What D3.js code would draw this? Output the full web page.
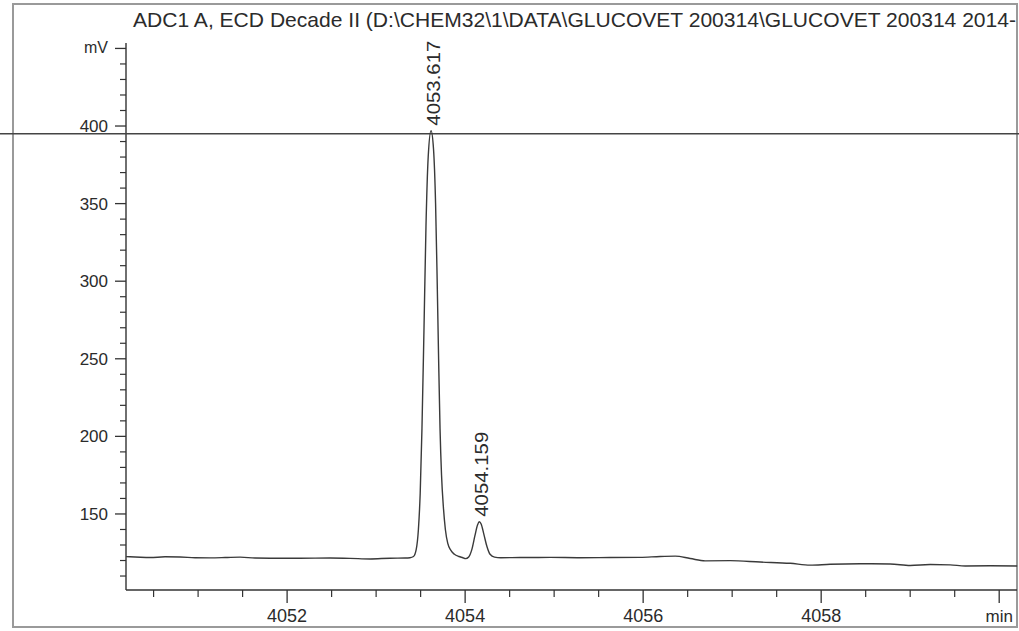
<!DOCTYPE html>
<html>
<head>
<meta charset="utf-8">
<script src="https://cdn.jsdelivr.net/npm/d3@7"></script>
<style>
  html, body { margin: 0; padding: 0; background: #fff; }
  svg { display: block; }
  text { font-family: Arial, "Liberation Sans", sans-serif; fill: #2b2b2b; }
</style>
</head>
<body>
<svg id="chart" width="1019" height="631"></svg>
<script>
// Detector trace: retention time (min) and signal (mV)
const traceTime = [
  4050.191, 4050.292, 4050.461, 4050.629, 4050.798, 4050.966, 4051.135, 4051.303,
  4051.472, 4051.640, 4051.809, 4052.146, 4052.483, 4052.708, 4052.933, 4053.157,
  4053.326,
  4053.380, 4053.420, 4053.450, 4053.475, 4053.495, 4053.515, 4053.538, 4053.560,
  4053.585, 4053.617, 4053.645, 4053.668, 4053.686, 4053.702, 4053.718, 4053.735,
  4053.755, 4053.778, 4053.805, 4053.840, 4053.880, 4053.930, 4053.975, 4054.005,
  4054.040, 4054.075, 4054.110, 4054.140, 4054.159, 4054.180, 4054.210, 4054.245,
  4054.280, 4054.330, 4054.400,
  4054.618, 4054.955, 4055.292, 4055.629, 4055.966, 4056.191, 4056.360, 4056.528,
  4056.697, 4056.978, 4057.315, 4057.652, 4057.876, 4058.101, 4058.438, 4058.775,
  4059.000, 4059.225, 4059.449, 4059.618, 4059.899, 4060.202
];
const traceMv = [
  122.5, 122.3, 121.9, 122.4, 122.3, 121.8, 121.7, 121.9,
  122.2, 121.6, 121.5, 121.5, 121.6, 121.4, 121.0, 121.5,
  121.6,
  121.8, 122.6, 127.0, 140.0, 163.0, 205.0, 270.0, 335.0,
  380.0, 397.0, 385.0, 350.0, 300.0, 250.0, 205.0, 175.0,
  155.0, 140.0, 131.0, 126.5, 124.0, 122.6, 121.8, 121.2,
  122.3, 127.0, 136.0, 143.0, 145.0, 143.5, 137.0, 129.0,
  124.0, 122.2, 121.8,
  121.9, 122.0, 121.8, 121.9, 122.0, 122.6, 122.8, 121.3,
  119.8, 119.9, 119.0, 118.2, 117.0, 117.6, 117.9, 117.8,
  116.8, 117.4, 117.2, 116.5, 116.6, 116.5
];

// Integrated peaks (retention time labels)
const peakTimes = [4053.617, 4054.159];
const peakLabels = ["4053.617", "4054.159"];

// Axis ticks
const yMajorTicks = [150, 200, 250, 300, 350, 400];
const yMinorTicks = [110, 120, 130, 140, 160, 170, 180, 190, 210, 220, 230, 240,
  260, 270, 280, 290, 310, 320, 330, 340, 360, 370, 380, 390, 410, 420, 430, 440];
const yUnitTick = 450;
const xMajorTicks = [4052, 4054, 4056, 4058];
const xMinorTicks = [4050.5, 4051, 4051.5, 4052.5, 4053, 4053.5, 4054.5, 4055, 4055.5,
  4056.5, 4057, 4057.5, 4058.5, 4059, 4059.5];
const xUnitTick = 4060;

// Reference level line drawn across the page
const referenceMv = 395;

const titleText = "ADC1 A, ECD Decade II (D:\\CHEM32\\1\\DATA\\GLUCOVET 200314\\GLUCOVET 200314 2014-";

const svg = d3.select("#chart");
const ink = "#333";

const x = d3.scaleLinear().domain([4050.19, 4060.2]).range([126, 1017]);
const y = d3.scaleLinear().domain([101, 453.5]).range([590, 43]);

// page frame
svg.append("rect")
  .attr("x", 13).attr("y", 4).attr("width", 1004).attr("height", 623)
  .attr("fill", "none").attr("stroke", "#9a9a9a").attr("stroke-width", 2);

// title
svg.append("text")
  .attr("x", 133).attr("y", 27)
  .attr("font-size", 21)
  .attr("textLength", 883).attr("lengthAdjust", "spacingAndGlyphs")
  .text(titleText);

// y axis
svg.append("line")
  .attr("x1", x.range()[0]).attr("x2", x.range()[0])
  .attr("y1", y.range()[1]).attr("y2", y.range()[0])
  .attr("stroke", ink).attr("stroke-width", 1.4);

svg.append("g").selectAll("line").data(yMinorTicks).join("line")
  .attr("x1", x.range()[0] - 6).attr("x2", x.range()[0])
  .attr("y1", d => y(d)).attr("y2", d => y(d))
  .attr("stroke", ink).attr("stroke-width", 1.2);

svg.append("g").selectAll("line").data(yMajorTicks.concat([yUnitTick])).join("line")
  .attr("x1", x.range()[0] - 11).attr("x2", x.range()[0])
  .attr("y1", d => y(d)).attr("y2", d => y(d))
  .attr("stroke", ink).attr("stroke-width", 1.3);

svg.append("g").selectAll("text").data(yMajorTicks).join("text")
  .attr("x", 108).attr("y", d => y(d))
  .attr("dy", "0.35em").attr("text-anchor", "end")
  .attr("font-size", 17)
  .text(d => d);

svg.append("text")
  .attr("x", 108).attr("y", y(yUnitTick))
  .attr("dy", "0.3em").attr("text-anchor", "end")
  .attr("font-size", 16)
  .text("mV");

// x axis
svg.append("line")
  .attr("x1", x.range()[0]).attr("x2", x.range()[1])
  .attr("y1", y.range()[0]).attr("y2", y.range()[0])
  .attr("stroke", ink).attr("stroke-width", 1.4);

svg.append("g").selectAll("line").data(xMinorTicks).join("line")
  .attr("x1", d => x(d)).attr("x2", d => x(d))
  .attr("y1", y.range()[0]).attr("y2", y.range()[0] + 7)
  .attr("stroke", ink).attr("stroke-width", 1.2);

svg.append("g").selectAll("line").data(xMajorTicks.concat([xUnitTick])).join("line")
  .attr("x1", d => x(d)).attr("x2", d => x(d))
  .attr("y1", y.range()[0]).attr("y2", y.range()[0] + 13)
  .attr("stroke", ink).attr("stroke-width", 1.3);

svg.append("g").selectAll("text").data(xMajorTicks).join("text")
  .attr("x", d => x(d)).attr("y", 622)
  .attr("text-anchor", "middle")
  .attr("font-size", 18)
  .text(d => d);

svg.append("text")
  .attr("x", x(xUnitTick)).attr("y", 622)
  .attr("text-anchor", "middle")
  .attr("font-size", 17)
  .text("min");

// reference level line
svg.append("line")
  .attr("x1", 0).attr("x2", 1019)
  .attr("y1", y(referenceMv)).attr("y2", y(referenceMv))
  .attr("stroke", "#444").attr("stroke-width", 1.4);

// chromatogram trace
const points = traceTime.map((t, i) => [t, traceMv[i]]);
svg.append("path")
  .datum(points)
  .attr("fill", "none")
  .attr("stroke", "#3a3a3a")
  .attr("stroke-width", 1.4)
  .attr("stroke-linejoin", "round")
  .attr("d", d3.line().x(d => x(d[0])).y(d => y(d[1])).curve(d3.curveMonotoneX));

// peak retention time labels, rotated above each apex
peakTimes.forEach((t, i) => {
  const idx = traceTime.indexOf(t);
  const v = traceMv[idx];
  const px = x(t) + 9;
  const py = y(v) - 5;
  svg.append("text")
    .attr("transform", `translate(${px},${py}) rotate(-90)`)
    .attr("font-size", 19)
    .attr("textLength", 85).attr("lengthAdjust", "spacingAndGlyphs")
    .text(peakLabels[i]);
});
</script>
</body>
</html>
